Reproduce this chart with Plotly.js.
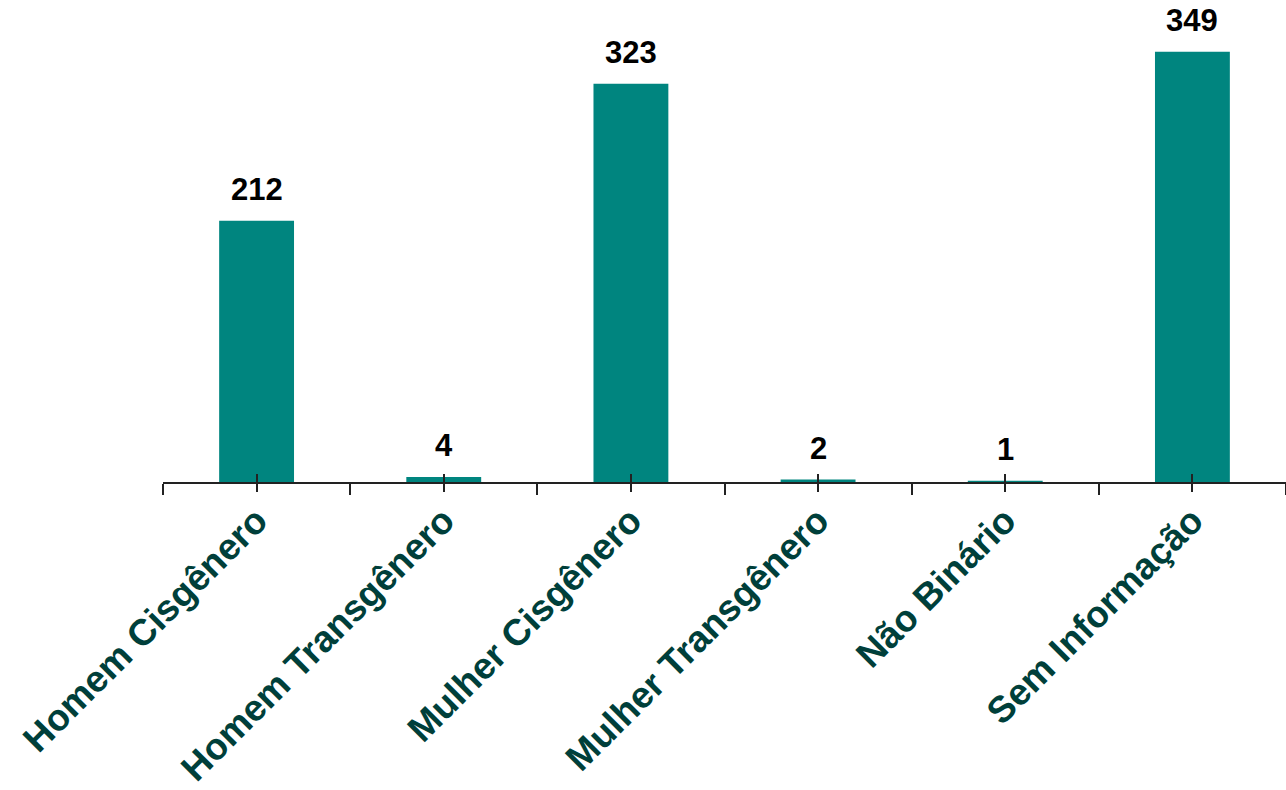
<!DOCTYPE html>
<html><head><meta charset="utf-8">
<script src="https://cdn.plot.ly/plotly-3.0.1.min.js"></script>
<style>html,body{margin:0;padding:0;background:#fff}#chart{width:1286px;height:790px}</style>
</head><body><div id="chart"></div>
<script>
var categories = ["Homem Cisgênero","Homem Transgênero","Mulher Cisgênero","Mulher Transgênero","Não Binário","Sem Informação"];
var values = [212, 4, 323, 2, 1, 349];

var font = "Liberation Sans, Arial, sans-serif";
var traces = [
  {type:"bar", x:categories, y:values, marker:{color:"#00857F"}, hoverinfo:"skip"},
  {type:"scatter", mode:"markers", x:categories, y:categories.map(function(){return null;}), xaxis:"x2", yaxis:"y", showlegend:false, hoverinfo:"skip"},
  {type:"scatter", mode:"markers", x:categories, y:categories.map(function(){return null;}), xaxis:"x3", yaxis:"y", showlegend:false, hoverinfo:"skip"}
];
var annotations = categories.map(function(c, i){
  return {x:c, y:values[i], xref:"x", yref:"y", text:String(values[i]), showarrow:false,
    yanchor:"bottom", xanchor:"center", yshift:12,
    font:{family:font, size:31, color:"#000", weight:"bold"}};
});
var baseAx = {type:"category", categoryorder:"array", categoryarray:categories, range:[-0.5,5.5], fixedrange:true};
var layout = {
  width:1286, height:790, margin:{l:163, r:0, t:0, b:308},
  paper_bgcolor:"#fff", plot_bgcolor:"#fff", showlegend:false, bargap:0.6,
  annotations: annotations,
  xaxis: Object.assign({}, baseAx, {showline:true, linecolor:"#222", linewidth:2, ticks:"outside", tickson:"boundaries",
    ticklen:11, tickwidth:2, tickcolor:"#222", showgrid:false, zeroline:false, tickangle:-45,
    tickfont:{family:font, size:37, color:"#003F3A", weight:"bold"}}),
  xaxis2: Object.assign({}, baseAx, {overlaying:"x", anchor:"y", ticks:"inside", ticklen:8, tickwidth:2, tickcolor:"#222",
    showticklabels:false, showgrid:false, zeroline:false, showline:false}),
  xaxis3: Object.assign({}, baseAx, {overlaying:"x", anchor:"y", ticks:"outside", ticklen:9, tickwidth:2, tickcolor:"#222",
    showticklabels:false, showgrid:false, zeroline:false, showline:false}),
  yaxis:{range:[0,391], visible:false, fixedrange:true},
  font:{family:font}
};
Plotly.newPlot("chart", traces, layout, {displayModeBar:false, staticPlot:true});
</script></body></html>
